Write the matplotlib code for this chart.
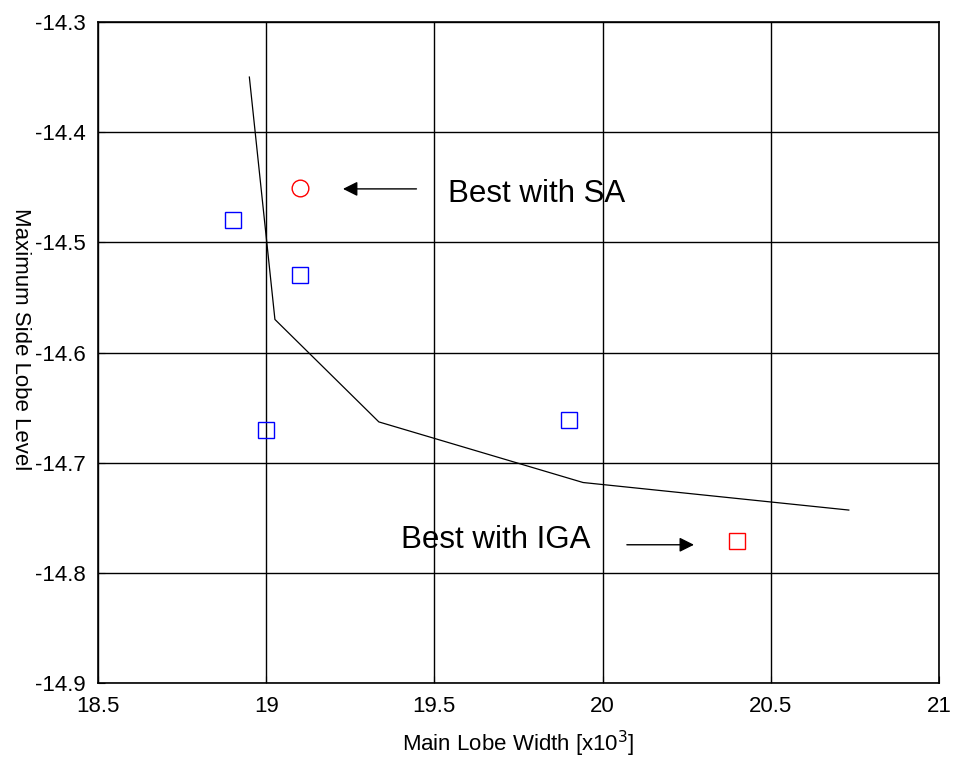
import matplotlib
matplotlib.use('Agg')
import matplotlib.pyplot as plt

plt.rcParams['font.family'] = ['Liberation Sans', 'DejaVu Sans']

# trade-off curve
front_x = [18.95, 19.026, 19.335, 19.942, 20.732]
front_y = [-14.35, -14.570, -14.663, -14.718, -14.743]

# other solutions
blue_x = [18.90, 19.10, 19.00, 19.90]
blue_y = [-14.48, -14.53, -14.67, -14.661]

sa_x, sa_y = [19.10], [-14.451]
iga_x, iga_y = [20.40], [-14.771]

xticks = [18.5, 19, 19.5, 20, 20.5, 21]
xticklabels = ['18.5', '19', '19.5', '20', '20.5', '21']
yticks = [-14.9, -14.8, -14.7, -14.6, -14.5, -14.4, -14.3]
yticklabels = ['-14.9', '-14.8', '-14.7', '-14.6', '-14.5', '-14.4', '-14.3']

fig = plt.figure(figsize=(9.55, 7.63), dpi=100, facecolor='white')
ax = fig.add_axes([0.1026, 0.1048, 0.8806, 0.8664])

ax.plot(front_x, front_y, color='black', lw=0.9)
ax.plot(blue_x, blue_y, 's', ms=11, mfc='none', mec='blue', mew=1.0)
ax.plot(sa_x, sa_y, 'o', ms=12, mfc='none', mec='red', mew=1.0)
ax.plot(iga_x, iga_y, 's', ms=11, mfc='none', mec='red', mew=1.0)

ax.annotate('', xy=(19.22, -14.4515), xytext=(19.455, -14.4515),
            arrowprops=dict(arrowstyle='-|>', color='black', lw=1, mutation_scale=22))
ax.text(19.54, -14.4565, 'Best with SA', fontsize=22.5, va='center', ha='left')
ax.annotate('', xy=(20.28, -14.7745), xytext=(20.064, -14.7745),
            arrowprops=dict(arrowstyle='-|>', color='black', lw=1, mutation_scale=22))
ax.text(19.40, -14.7705, 'Best with IGA', fontsize=22.5, va='center', ha='left')

ax.set_xlim(18.5, 21)
ax.set_ylim(-14.9, -14.3)
ax.set_xticks(xticks)
ax.set_xticklabels(xticklabels, fontsize=16)
ax.set_yticks(yticks)
ax.set_yticklabels(yticklabels, fontsize=16)
ax.grid(True, color='black', lw=1, ls='-')
ax.tick_params(direction='in', length=5, pad=9)
for s in ax.spines.values():
    s.set_linewidth(1.2)

ax.set_xlabel('Main Lobe Width [x10$^3$]', fontsize=16, labelpad=9)
ax.set_ylabel('Maximum Side Lobe Level', fontsize=16, rotation=270, va='center', ha='center')
ax.yaxis.set_label_coords(-0.0927, 0.52)

fig.savefig('out.png', dpi=100)
